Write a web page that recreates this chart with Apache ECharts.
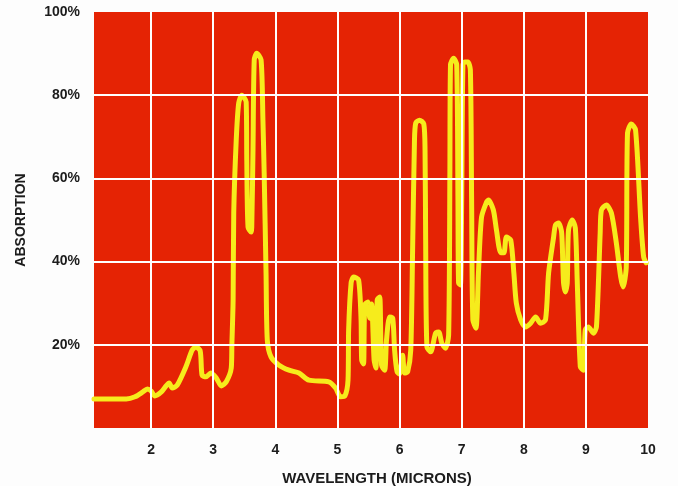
<!DOCTYPE html>
<html>
<head>
<meta charset="utf-8">
<script src="https://cdn.jsdelivr.net/npm/echarts@6/dist/echarts.min.js"></script>
<style>
html,body{margin:0;padding:0;background:#fdfdfd;}
#chart{width:678px;height:486px;}
</style>
</head>
<body>
<div id="chart"></div>
<script>
// Wavelength (microns) of traced points
const wavelength = [1.08,1.60,1.74,1.86,1.94,2.00,2.06,2.16,2.24,2.29,2.34,2.42,2.56,2.66,2.72,2.79,2.82,2.88,2.96,3.05,3.13,3.21,3.29,3.30,3.32,3.33,3.37,3.41,3.46,3.53,3.54,3.56,3.61,3.62,3.64,3.66,3.70,3.77,3.80,3.82,3.85,3.87,3.93,4.06,4.22,4.38,4.54,4.86,4.97,5.05,5.12,5.17,5.18,5.22,5.26,5.34,5.38,5.39,5.42,5.44,5.49,5.52,5.55,5.59,5.62,5.64,5.68,5.71,5.76,5.79,5.84,5.89,5.92,5.96,6.00,6.05,6.08,6.13,6.18,6.21,6.24,6.26,6.32,6.39,6.41,6.42,6.44,6.50,6.58,6.63,6.68,6.74,6.79,6.81,6.82,6.87,6.92,6.94,6.95,6.98,7.00,7.02,7.05,7.10,7.14,7.16,7.18,7.23,7.27,7.32,7.40,7.43,7.51,7.56,7.63,7.68,7.72,7.79,7.84,7.88,7.95,8.03,8.11,8.19,8.27,8.35,8.40,8.48,8.51,8.56,8.61,8.64,8.67,8.70,8.72,8.78,8.83,8.86,8.91,8.96,8.99,9.04,9.12,9.17,9.23,9.25,9.33,9.41,9.49,9.56,9.60,9.65,9.67,9.73,9.80,9.88,9.93,9.97];
// Absorption (%) at those points
const absorption = [7.0,7.0,7.5,8.6,9.4,8.9,7.7,8.6,10.1,10.8,9.6,10.3,14.7,18.7,19.5,18.5,12.7,12.3,13.2,12.0,10.1,11.1,14.4,20.0,30.8,51.7,69.2,78.1,80.0,78.4,64.4,48.3,47.1,48.3,66.8,88.5,90.1,88.5,74.0,61.3,37.3,21.2,17.1,15.1,13.9,13.2,11.5,11.1,9.6,7.5,7.7,11.5,23.6,34.9,36.3,35.6,26.0,16.3,15.4,29.6,30.3,26.4,29.8,16.3,14.4,30.8,31.5,15.1,13.9,21.2,26.7,26.4,18.7,13.5,13.0,17.5,13.2,13.5,18.7,42.8,69.2,73.3,74.0,73.1,66.8,45.2,19.5,18.3,22.8,23.1,20.4,19.2,22.4,61.3,87.3,88.9,87.3,54.8,34.9,34.4,54.8,87.3,88.0,88.0,86.1,54.8,26.0,24.0,37.3,50.7,54.3,54.8,52.4,47.6,42.1,42.1,45.9,45.2,37.3,30.0,26.0,24.3,25.2,26.7,25.2,26.0,37.3,45.9,48.8,49.3,46.9,34.9,32.7,34.9,47.6,50.0,48.1,35.6,14.7,13.9,23.6,24.3,22.8,24.3,46.9,52.4,53.6,51.7,44.5,36.3,33.9,38.7,70.9,73.1,71.6,50.7,41.1,39.7];
const xGrid = [2,3,4,5,6,7,8,9];
const yGrid = [20,40,60,80];
const xTicks = [2,3,4,5,6,7,8,9,10];
const yTicks = [20,40,60,80,100];

const chart = echarts.init(document.getElementById('chart'), null, {renderer:'canvas'});
const pts = wavelength.map((w,i)=>[w, absorption[i]]);
const gridLines = xGrid.map(v=>({xAxis:v})).concat(yGrid.map(v=>({yAxis:v})));
const labelFont = {fontFamily:'Liberation Sans, Arial, sans-serif', fontWeight:'bold', fontSize:14, color:'#1c1c1c'};
chart.setOption({
  animation:false,
  backgroundColor:'#fdfdfd',
  grid:{left:94,right:30,top:12,bottom:58,show:true,backgroundColor:'#e52304',borderWidth:0,
        containLabel:false,outerBoundsMode:'none'},
  xAxis:{type:'value',min:1.08,max:10,splitNumber:9,
    axisLine:{show:false},axisTick:{show:false},splitLine:{show:false},
    axisLabel:Object.assign({margin:15,formatter:v=>xTicks.indexOf(Math.round(v*100)/100)>=0?String(v):''},labelFont),
    name:'WAVELENGTH (MICRONS)',nameLocation:'middle',nameGap:43,
    nameTextStyle:Object.assign({},labelFont,{fontSize:15,padding:[0,0,0,12]})},
  yAxis:{type:'value',min:0,max:100,interval:20,
    axisLine:{show:false},axisTick:{show:false},splitLine:{show:false},
    axisLabel:Object.assign({margin:14,formatter:v=>yTicks.indexOf(v)>=0?v+'%':''},labelFont),
    name:'ABSORPTION',nameLocation:'middle',nameGap:66,nameRotate:90,
    nameTextStyle:Object.assign({},labelFont,{fontSize:14})},
  series:[
    {type:'line',data:[],z:1,silent:true,
     markLine:{silent:true,symbol:'none',label:{show:false},
       lineStyle:{color:'#ffffff',width:2,type:'solid'},data:gridLines}},
    {type:'line',data:pts,z:3,showSymbol:false,smooth:0.25,
     lineStyle:{color:'#f6ec1c',width:5,cap:'round',join:'round'}}
  ]
});
</script>
</body>
</html>
